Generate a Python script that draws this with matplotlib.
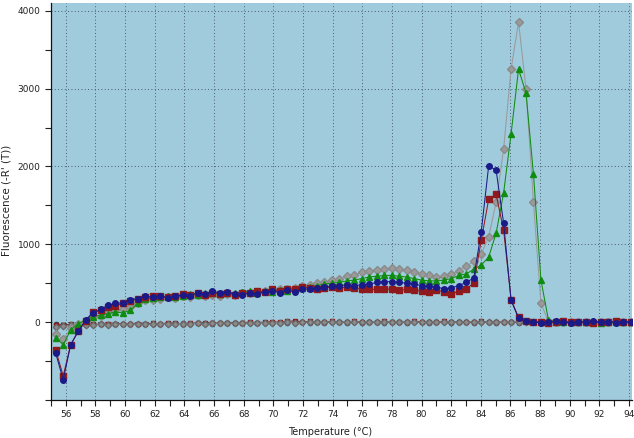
import numpy as np
import matplotlib
matplotlib.use("Agg")
import matplotlib.pyplot as plt
from matplotlib.ticker import MultipleLocator

# Temperature grid (°C), 78 readings
temps = np.linspace(55.32, 94.10, 78)

blue = [-400, -740, -290, -120, 30, 120, 165, 215, 240, 250,
        290, 300, 330, 320, 340, 310, 330, 350, 340, 380,
        360, 400, 370, 390, 360, 350, 380, 360, 390, 400,
        380, 410, 390, 420, 430, 440, 450, 460, 470, 480,
        470, 480, 490, 510, 520, 520, 510, 500, 490, 470,
        460, 450, 430, 440, 470, 510, 570, 1160, 2010, 1950,
        1270, 280, 50, 10, 5, -5, 0, 10, 0, -5,
        5, 0, 10, 0, 5, -5, 0, 5]

red = [-360, -690, -290, -120, 10, 130, 150, 190, 210, 240,
       270, 300, 320, 330, 340, 320, 330, 360, 350, 370,
       350, 380, 360, 380, 350, 370, 380, 400, 390, 420,
       400, 430, 420, 450, 440, 420, 440, 450, 440, 450,
       440, 430, 420, 420, 430, 420, 410, 420, 410, 400,
       390, 410, 390, 360, 400, 430, 500, 1050, 1580, 1640,
       1180, 290, 60, 10, 0, 5, -5, 0, 10, 0,
       5, 0, -5, 5, 0, 10, 0, 5]

green = [-200, -290, -100, -20, 30, 70, 90, 110, 130, 120,
         150, 250, 300, 310, 320, 330, 320, 340, 360, 350,
         380, 370, 360, 380, 370, 390, 400, 380, 400, 390,
         410, 400, 420, 440, 450, 470, 490, 500, 510, 530,
         540, 560, 580, 590, 600, 600, 590, 580, 560, 540,
         530, 530, 540, 560, 600, 620, 680, 733, 836, 1145,
         1660, 2420, 3250, 2945, 1900, 540, 30, 5, 0, 5,
         0, 5, 0, -5, 5, 0, 5, 0]

gray = [-150, -220, -80, -20, 20, 60, 80, 130, 150, 170,
        200, 240, 280, 290, 300, 320, 310, 330, 320, 350,
        340, 350, 330, 360, 350, 370, 380, 390, 400, 410,
        420, 430, 440, 460, 480, 500, 520, 540, 560, 590,
        610, 640, 660, 670, 680, 690, 680, 670, 650, 620,
        600, 580, 590, 620, 660, 720, 780, 875, 1095, 1543,
        2225, 3254, 3855, 3000, 1540, 240, 10, 5, 0, 5,
        0, 5, 0, 5, 0, 5, 0, 5]

base_gray = [-60, -50, -40, -40, -35, -35, -30, -35, -30, -30,
             -25, -30, -25, -25, -20, -25, -20, -20, -20, -15,
             -20, -15, -15, -10, -15, -10, -10, -5, -10, -5,
             -5, 0, -5, 0, 0, 5, 0, 5, 0, 5,
             5, 0, 5, 5, 0, 5, 5, 0, 5, 0,
             5, 5, 0, 5, 0, 5, 5, 0, 5, 0,
             5, 0, 5, 5, 0, 5, 5, 0, 5, 0,
             5, 5, 0, 5, 0, 5, 5, 0]

base_red = [-40, -35, -30, -35, -30, -25, -30, -25, -25, -20,
            -25, -20, -20, -15, -20, -15, -15, -20, -10, -15,
            -10, -15, -10, -5, -10, -5, 0, -5, 0, 5,
            0, 10, 15, 5, 10, 0, 5, 10, 5, 0,
            10, 5, 0, 5, 10, 0, 5, 0, 10, 5,
            0, 5, 10, 0, 5, 0, 5, 10, 0, 5,
            0, 5, 0, 10, 5, 0, 5, 0, 10, 5,
            0, 5, 0, 5, 10, 0, 5, 0]

base_dark = [-30, -40, -35, -30, -35, -30, -25, -30, -30, -25,
             -30, -25, -20, -25, -20, -20, -25, -15, -20, -15,
             -15, -20, -10, -15, -10, -10, -15, -5, -10, -5,
             -10, -5, -5, 0, -5, 0, -5, 0, 0, -5,
             0, -5, 0, 0, -5, 0, 0, -5, 0, 0,
             -5, 0, 0, -5, 0, 0, -5, 0, 0, -5,
             0, 0, -5, 0, 0, -5, 0, 0, -5, 0,
             0, -5, 0, 0, -5, 0, 0, -5]

x_major = list(range(56, 95, 2))
y_major = [0, 1000, 2000, 3000, 4000]

fig = plt.figure(figsize=(6.34, 4.38), dpi=100)
ax = fig.add_axes([51/634, 1 - 400/438, 581/634, 397/438])
ax.set_facecolor("#A0CBDC")

lw = 0.75
ms = 4.0
ax.plot(temps, base_dark, color="#3a3a5a", lw=lw, marker="o", ms=3, zorder=2)
ax.plot(temps, base_red, color="#8B1A1A", lw=lw, marker="s", ms=3.3, zorder=2)
ax.plot(temps, base_gray, color="#8c8c8c", lw=lw, marker="D", ms=3.3,
        mec="#6a6a6a", zorder=2)

ax.plot(temps, gray, color="#9a9a9a", lw=lw, marker="D", ms=ms, mec="#8a8a8a", zorder=3)
ax.plot(temps, green, color="#108C10", lw=lw, marker="^", ms=ms + 0.5, zorder=4)
ax.plot(temps, red, color="#8E1A1E", lw=lw, marker="s", ms=ms, zorder=5)
ax.plot(temps, blue, color="#1A1A88", lw=lw, marker="o", ms=ms, zorder=6)

ax.set_xlim(55.0, 94.2)
ax.set_ylim(-1000, 4100)
ax.set_xticks(x_major)
ax.set_xticklabels([str(v) for v in x_major])
ax.xaxis.set_minor_locator(MultipleLocator(1))
ax.set_yticks(y_major)
ax.set_yticklabels([str(v) for v in y_major])
ax.yaxis.set_minor_locator(MultipleLocator(500))

ax.tick_params(axis="both", which="major", length=4, width=0.8,
               labelsize=6.5, colors="#222222", direction="out")
ax.tick_params(axis="both", which="minor", length=4, width=0.8,
               colors="#222222", direction="out")

for side in ("top", "right"):
    ax.spines[side].set_visible(False)
for side in ("left", "bottom"):
    ax.spines[side].set_color("#111111")
    ax.spines[side].set_linewidth(0.9)

ax.grid(True, which="major", color="#2a3a4a", linestyle=(0, (1, 3)), linewidth=0.6)
ax.set_axisbelow(True)

ax.set_xlabel("Temperature (°C)", fontsize=7, color="#222222")
ax.xaxis.set_label_coords((330 - 51) / 581, -(427 - 400) / 397)
ax.set_ylabel("Fluorescence (-R' (T))", fontsize=7.5, color="#222222")
ax.yaxis.set_label_coords(-(51 - 12) / 581, (400 - 200) / 397)

fig.savefig("out.png", dpi=100)
